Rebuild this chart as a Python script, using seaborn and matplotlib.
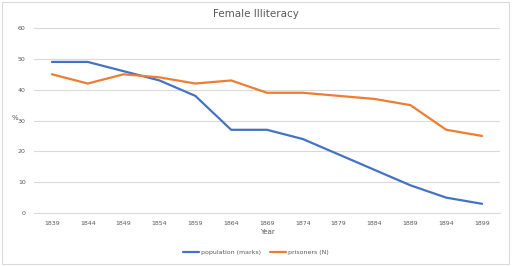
import pandas as pd
import seaborn as sns
import matplotlib.pyplot as plt
from matplotlib.patches import Rectangle

years = [1839, 1844, 1849, 1854, 1859, 1864, 1869, 1874, 1879, 1884, 1889, 1894, 1899]
population = [49, 49, 46, 43, 38, 27, 27, 24, 19, 14, 9, 5, 3]
prisoners = [45, 42, 45, 44, 42, 43, 39, 39, 38, 37, 35, 27, 25]
series_names = ['population (marks)', 'prisoners (N)']

df = pd.DataFrame({'Year': years * 2,
                   'value': population + prisoners,
                   'series': [series_names[0]] * len(years) + [series_names[1]] * len(years)})

sns.set_style('white')
fig = plt.figure(figsize=(5.12, 2.66), dpi=100)
ax = fig.add_axes([0.0664, 0.199, 0.9102, 0.6957])

sns.lineplot(data=df, x='Year', y='value', hue='series',
             palette=['#4472C4', '#ED7D31'], linewidth=1.6, ax=ax, legend=False)

ax.set_xlim(years[0] - 2.5, years[-1] + 2.5)
ax.set_ylim(0, 60)
ax.set_xticks(years)
ax.set_xticklabels([str(y) for y in years])
ax.set_yticks(range(0, 61, 10))
ax.tick_params(labelsize=4.5, colors='#595959', length=0, pad=6)
ax.grid(axis='y', color='#D9D9D9', linewidth=0.8)
for s in ['top', 'right', 'left']:
    ax.spines[s].set_visible(False)
ax.spines['bottom'].set_color('#D9D9D9')
ax.set_xlabel('Year', fontsize=5, color='#595959', labelpad=2)
ax.set_ylabel('%', fontsize=5, color='#595959', rotation=0, labelpad=6)
ax.yaxis.set_label_coords(-0.04, 0.5)

fig.suptitle('Female Illiteracy', y=0.965, fontsize=7.5, color='#595959')

handles = [plt.Line2D([], [], color=c, linewidth=1.6) for c in ['#4472C4', '#ED7D31']]
fig.legend(handles, series_names, loc='center', bbox_to_anchor=(0.5, 0.052), ncol=2,
           frameon=False, fontsize=4.5, handlelength=2.5, handletextpad=0.3, columnspacing=1.5,
           labelcolor='#595959')

fig.patches.append(Rectangle((0.004, 0.008), 0.99, 0.985, transform=fig.transFigure,
                             fill=False, edgecolor='#D9D9D9', linewidth=0.8))

fig.savefig('out.png', dpi=100)
